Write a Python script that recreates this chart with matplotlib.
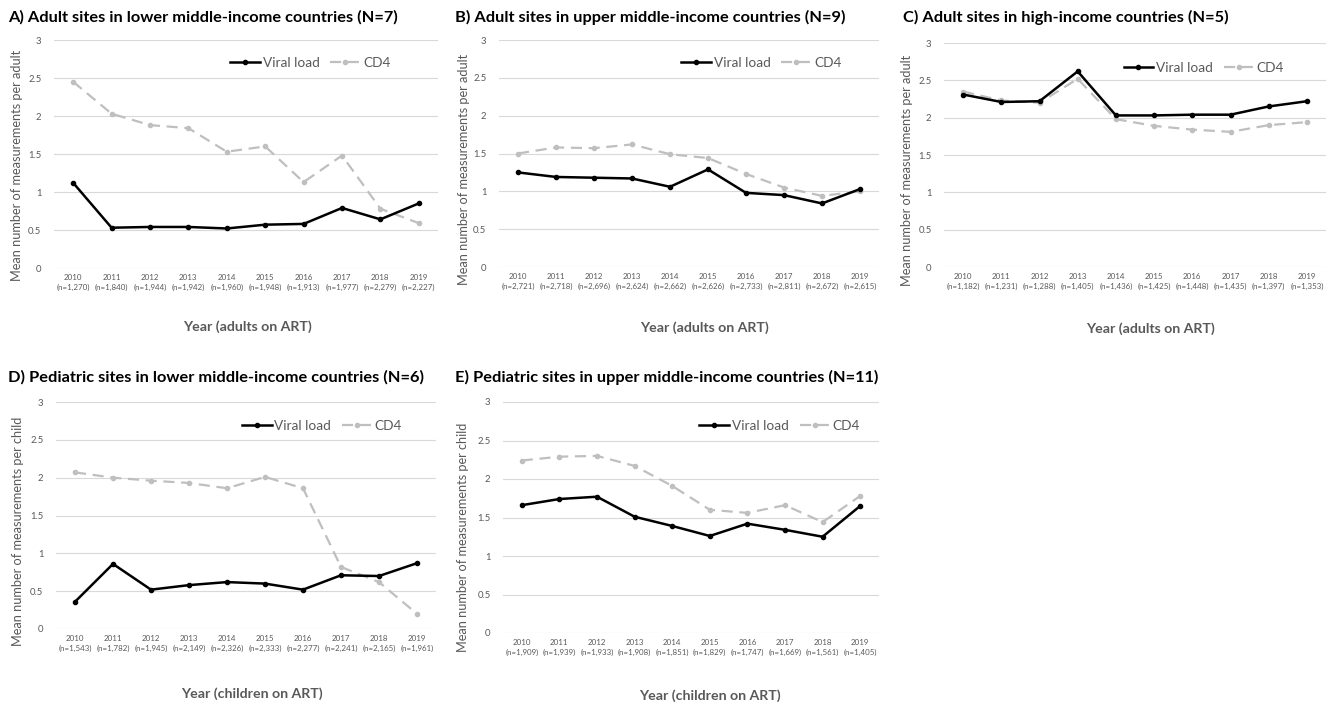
import matplotlib
matplotlib.use("Agg")
import matplotlib.pyplot as plt
import numpy as np

years = ["2010", "2011", "2012", "2013", "2014", "2015", "2016", "2017", "2018", "2019"]

titles = [
    "A) Adult sites in lower middle-income countries (N=7)",
    "B) Adult sites in upper middle-income countries (N=9)",
    "C) Adult sites in high-income countries (N=5)",
    "D) Pediatric sites in lower middle-income countries (N=6)",
    "E) Pediatric sites in upper middle-income countries (N=11)",
]

n_a = ["1,270", "1,840", "1,944", "1,942", "1,960", "1,948", "1,913", "1,977", "2,279", "2,227"]
n_b = ["2,721", "2,718", "2,696", "2,624", "2,662", "2,626", "2,733", "2,811", "2,672", "2,615"]
n_c = ["1,182", "1,231", "1,288", "1,405", "1,436", "1,425", "1,448", "1,435", "1,397", "1,353"]
n_d = ["1,543", "1,782", "1,945", "2,149", "2,326", "2,333", "2,277", "2,241", "2,165", "1,961"]
n_e = ["1,909", "1,939", "1,933", "1,908", "1,851", "1,829", "1,747", "1,669", "1,561", "1,405"]

vl_a = [1.12, 0.53, 0.54, 0.54, 0.52, 0.57, 0.58, 0.79, 0.64, 0.85]
cd4_a = [2.45, 2.03, 1.88, 1.84, 1.53, 1.60, 1.13, 1.48, 0.78, 0.59]
vl_b = [1.25, 1.19, 1.18, 1.17, 1.06, 1.29, 0.98, 0.95, 0.84, 1.03]
cd4_b = [1.50, 1.58, 1.57, 1.62, 1.49, 1.44, 1.23, 1.05, 0.94, 1.00]
vl_c = [2.31, 2.21, 2.22, 2.62, 2.03, 2.03, 2.04, 2.04, 2.15, 2.22]
cd4_c = [2.35, 2.23, 2.20, 2.52, 1.98, 1.89, 1.84, 1.81, 1.90, 1.94]
vl_d = [0.36, 0.86, 0.52, 0.58, 0.62, 0.60, 0.52, 0.71, 0.70, 0.87]
cd4_d = [2.07, 2.00, 1.96, 1.93, 1.86, 2.01, 1.86, 0.82, 0.62, 0.20]
vl_e = [1.66, 1.74, 1.77, 1.51, 1.39, 1.26, 1.42, 1.34, 1.25, 1.65]
cd4_e = [2.24, 2.29, 2.30, 2.17, 1.91, 1.60, 1.56, 1.66, 1.44, 1.78]

ylabels = ["Mean number of measurements per adult"] * 3 + ["Mean number of measurements per child"] * 2
xlabels = ["Year (adults on ART)"] * 3 + ["Year (children on ART)"] * 2
yticks = [0, 0.5, 1, 1.5, 2, 2.5, 3]
ytick_labels = ["0", "0.5", "1", "1.5", "2", "2.5", "3"]

W, H = 1339, 709
# axes boxes in pixels: left, right, top, bottom
boxes = [(54, 438, 40, 268), (499, 879, 40, 267), (944, 1326, 43, 267),
         (56, 436, 402, 629), (503, 879, 402, 633)]
title_pos = [(8, 17), (455, 17), (903, 17), (8, 377), (455, 377)]
legend_pos = [(0.667, 0.90), (0.69, 0.90), (0.68, 0.89), (0.70, 0.894), (0.736, 0.896)]
ylab_pos = [(-0.08, 0.45), (-0.077, 0.43), (-0.08, 0.43), (-0.083, 0.43), (-0.09, 0.415)]
xlab_pos = [(0.505, -0.23), (0.542, -0.24), (0.54, -0.245), (0.516, -0.255), (0.55, -0.245)]

ns = [n_a, n_b, n_c, n_d, n_e]
vls = [vl_a, vl_b, vl_c, vl_d, vl_e]
cd4s = [cd4_a, cd4_b, cd4_c, cd4_d, cd4_e]

plt.rcParams['font.family'] = ['Lato', 'DejaVu Sans']
fig = plt.figure(figsize=(W / 100, H / 100), dpi=100)
gray_txt = "#595959"

for i in range(5):
    l, r, t, b = boxes[i]
    ax = fig.add_axes([l / W, 1 - b / H, (r - l) / W, (b - t) / H])
    x = np.arange(len(years))
    ax.plot(x, vls[i], color="black", lw=1.8, marker="o", ms=3.0, label="Viral load", zorder=3)
    ax.plot(x, cd4s[i], color="#BFBFBF", lw=1.6, ls=(0, (5, 3)), marker="o", ms=3.0,
            label="CD4", zorder=2)
    ax.set_xlim(-0.5, len(years) - 0.5)
    ax.set_ylim(0, 3)
    ax.set_yticks(yticks)
    ax.set_yticklabels(ytick_labels)
    ax.set_xticks(x)
    ax.set_xticklabels([f"{y}\n(n={n})" for y, n in zip(years, ns[i])], linespacing=1.6)
    ax.tick_params(axis="x", length=0, labelsize=5.7, colors=gray_txt, pad=4)
    ax.tick_params(axis="y", length=0, labelsize=6.8, colors=gray_txt, pad=9)
    ax.grid(axis="y", color="#D9D9D9", lw=0.8)
    ax.set_axisbelow(True)
    for s in ax.spines.values():
        s.set_visible(False)
    ax.set_ylabel(ylabels[i], fontsize=9.2, color=gray_txt)
    ax.yaxis.set_label_coords(*ylab_pos[i])
    ax.set_xlabel(xlabels[i], fontsize=10.2, color=gray_txt, fontweight="bold")
    ax.xaxis.set_label_coords(*xlab_pos[i])
    leg = ax.legend(ncol=2, frameon=False, loc="center", bbox_to_anchor=legend_pos[i],
                    fontsize=9.8, handlelength=2.2, columnspacing=0.8, handletextpad=0.2,
                    labelcolor=gray_txt)
    fig.text(title_pos[i][0] / W, 1 - title_pos[i][1] / H, titles[i], fontsize=11.8,
             fontweight="bold", color="black", ha="left", va="center")

fig.savefig("out.png", dpi=100)
